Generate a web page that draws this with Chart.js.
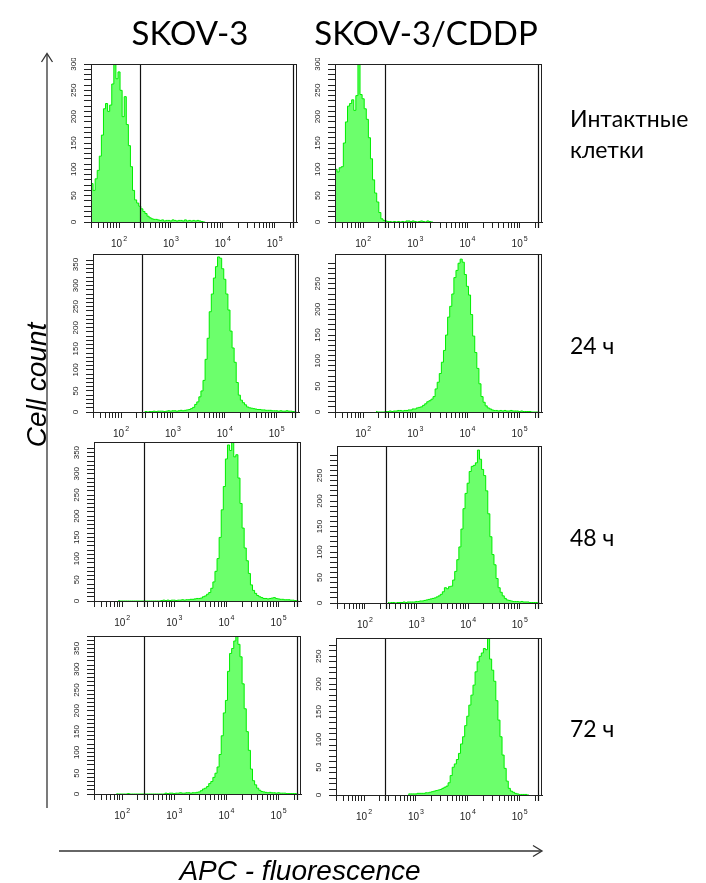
<!DOCTYPE html>
<html>
<head>
<meta charset="utf-8">
<script src="https://cdn.jsdelivr.net/npm/chart.js@4.4.1/dist/chart.umd.min.js"></script>
<style>
  body { margin: 0; background: #fff; }
  #page { position: relative; width: 706px; height: 883px; overflow: hidden; background: #fff; }
  #page canvas { position: absolute; }
  #overlay { position: absolute; left: 0; top: 0; }
</style>
</head>
<body>
<div id="page">
  <svg id="overlay" width="706" height="883" xmlns="http://www.w3.org/2000/svg"></svg>
</div>
<script>
// histogram bins are 0.04 decade wide; each panel lists counts from its first bin edge (log10)
const BIN = 0.04;
const X_MIN_LOG = 1.46, X_MAX_LOG = 5.43;

const columnNames = ['SKOV-3', 'SKOV-3/CDDP'];
const rowNames = [['Интактные', 'клетки'], ['24 ч'], ['48 ч'], ['72 ч']];
const xTickExp = [2, 3, 4, 5];
const gates = [257, 229000];
const yMax = [300, 300, 375, 308, 375, 308, 380, 283];
const firstEdge = [1.46, 1.46, 2.46, 2.26, 1.94, 2.46, 1.90, 2.86];

const skov3Intact = [400, 73, 60, 82, 98, 125, 165, 215, 225, 210, 222, 262, 300, 272, 285, 250, 200, 238, 185, 145,
  105, 60, 42, 36, 30, 25, 20, 16, 11, 8, 6, 5, 5, 4, 3, 4, 2, 3, 3, 2, 4, 3, 2, 3, 3, 2, 4, 2, 3, 2, 3, 2, 3, 2, 1];
const cddpIntact = [400, 100, 95, 103, 105, 150, 190, 220, 225, 232, 212, 240, 300, 242, 234, 215, 195, 160, 120, 80,
  55, 38, 18, 6, 3, 2, 1, 1, 0, 1, 0, 1, 0, 1, 0, 2, 2, 1, 2, 1, 0, 1, 2, 1, 0, 2, 1];
const skov3H24 = [1, 1, 0, 1, 1, 2, 1, 2, 2, 2, 1, 2, 3, 2, 3, 3, 2, 3, 4, 3, 4, 5, 6,
  8, 11, 18, 24, 36, 50, 75, 125, 175, 238, 280, 318, 345, 368, 365, 340, 315, 280, 242, 192, 152, 118, 70, 40, 28,
  22, 17, 12, 10, 9, 8, 7, 6, 6, 5, 5, 4, 4, 4, 3, 3, 3, 2, 3, 2, 2, 3, 2, 2, 1];
const cddpH24 = [2, 0, 0, 0, 0, 1, 1, 2, 1, 2, 2, 3, 3, 2,
  3, 3, 4, 4, 6, 6, 8, 9, 10, 13, 16, 20, 22, 25, 30, 45, 58, 75, 97, 120, 150, 185, 206, 230, 262, 276, 290, 298,
  292, 268, 245, 228, 190, 148, 116, 85, 55, 30, 19, 12, 8, 6, 4,
  3, 3, 2, 3, 2, 3, 2, 2, 3, 2, 2, 2, 1, 2, 1, 1, 1, 1, 0, 0, 0];
const skov3H48 = [2, 0, 0, 0, 0, 0, 0, 0, 0, 0, 0, 0, 0, 0, 0, 0, 0, 0, 0, 0, 0,
  1, 2, 1, 2, 1, 2, 2, 1, 2, 2, 3, 2, 3, 3, 4, 4, 5, 6, 6, 7,
  10, 12, 16, 20, 30, 45, 70, 100, 150, 215, 270, 335, 368, 355, 380, 340, 345, 290, 230, 172, 125, 95, 65, 38, 25,
  18, 13, 10, 8, 6, 6, 5, 6, 7, 8, 6, 5, 4, 4, 3, 3, 3, 2, 2, 1];
const cddpH48 = [2, 0, 1, 1, 0, 1, 1, 1, 2, 1, 2, 2, 2, 2, 3, 3, 4, 4, 5, 6, 7, 8, 9, 10, 12, 14, 17, 22, 30, 28,
  32, 33, 45, 62, 85, 110, 145, 185, 215, 235, 258, 268, 270, 275, 300, 282, 262, 250, 220, 175, 130, 95, 75, 48,
  30, 21, 14, 9, 6, 5, 4, 3, 3, 3, 2, 3, 2, 2, 2, 1, 1, 1, 1];
const skov3H72 = [1, 0, 0, 0, 0, 0, 1, 0, 0, 0, 0, 0, 0, 0, 0, 0, 0, 0, 0, 0, 0, 0, 0, 0,
  2, 1, 2, 2, 1, 2, 2, 3, 2, 2, 3, 3, 2, 3, 3, 4, 5, 8,
  12, 14, 18, 25, 30, 40, 50, 65, 95, 140, 195, 225, 295, 338, 350, 368, 385, 360, 330, 265, 205, 150, 105, 60,
  32, 22, 14, 9, 6, 5, 4, 3, 4, 3, 3, 2, 3, 2, 2, 2, 1, 1, 1, 1, 1];
const cddpH72 = [1, 2, 2, 2, 2, 3, 3, 3, 3, 4, 4, 5, 6, 7, 8, 9, 10, 12, 14, 16, 22, 35, 50, 56, 64, 75, 92, 105,
  125, 142, 162, 180, 198, 222, 240, 250, 256, 264, 262, 283, 245, 225, 205, 170, 135, 105, 72, 48, 25, 12, 7,
  5, 3, 2, 1, 1, 1, 1];

const panelCounts = [skov3Intact, cddpIntact, skov3H24, cddpH24, skov3H48, cddpH48, skov3H72, cddpH72];

// plot-area placement on the page (left, top, right, bottom)
const areaLeft = [91, 335, 93, 335, 94, 337, 94, 336];
const areaTop = [64, 64, 254, 254, 442, 446, 636, 638];
const areaRight = [297, 542, 299, 542, 301, 542, 301, 542];
const areaBottom = [222, 222, 412, 412, 601, 603, 794, 795];

const FONT = '"Liberation Sans", Arial, sans-serif';
const page = document.getElementById('page');

function histPoints(edge, counts) {
  const pts = [{x: 10 ** edge, y: 0}];
  counts.forEach((c, i) => pts.push({x: 10 ** (edge + i * BIN), y: c}));
  pts.push({x: 10 ** (edge + counts.length * BIN), y: 0});
  return pts;
}

const panelDecor = {
  id: 'panelDecor',
  afterDraw(chart) {
    const {ctx, chartArea: a, scales: {x, y}} = chart;
    ctx.save();
    // gate markers
    ctx.strokeStyle = '#111';
    ctx.lineWidth = 1.2;
    gates.forEach(g => {
      const px = Math.round(x.getPixelForValue(g)) + 0.5;
      ctx.beginPath();
      ctx.moveTo(px, a.top);
      ctx.lineTo(px, a.bottom + 6);
      ctx.stroke();
    });
    // frame
    ctx.lineWidth = 1;
    ctx.strokeStyle = '#222';
    ctx.strokeRect(Math.round(a.left) + 0.5, Math.round(a.top) + 0.5,
      Math.round(a.right - a.left) - 1, Math.round(a.bottom - a.top));
    // y labels, rotated
    ctx.fillStyle = '#222';
    ctx.font = '8px ' + FONT;
    ctx.textAlign = 'center';
    ctx.textBaseline = 'middle';
    y.ticks.forEach(t => {
      if (t.value % 50) return;
      ctx.save();
      ctx.translate(a.left - 17, y.getPixelForValue(t.value));
      ctx.rotate(-Math.PI / 2);
      ctx.fillText(String(t.value), 0, 0);
      ctx.restore();
    });
    // x labels 10^n
    ctx.textAlign = 'left';
    ctx.textBaseline = 'alphabetic';
    xTickExp.forEach(e => {
      const px = x.getPixelForValue(10 ** e);
      ctx.font = '10px ' + FONT;
      const w1 = ctx.measureText('10').width;
      ctx.font = '7px ' + FONT;
      const w2 = ctx.measureText(String(e)).width;
      const x0 = px - (w1 + w2 + 1) / 2;
      ctx.font = '10px ' + FONT;
      ctx.fillText('10', x0, a.bottom + 25);
      ctx.font = '7px ' + FONT;
      ctx.fillText(String(e), x0 + w1 + 1, a.bottom + 19);
    });
    ctx.restore();
  }
};

panelCounts.forEach((counts, p) => {
  const w = areaRight[p] - areaLeft[p] + 36;
  const h = areaBottom[p] - areaTop[p] + 36;
  const canvas = document.createElement('canvas');
  canvas.width = w;
  canvas.height = h;
  canvas.style.left = (areaLeft[p] - 32) + 'px';
  canvas.style.top = (areaTop[p] - 6) + 'px';
  page.insertBefore(canvas, document.getElementById('overlay'));

  new Chart(canvas.getContext('2d'), {
    type: 'line',
    data: {
      datasets: [{
        data: histPoints(firstEdge[p], counts),
        stepped: 'after',
        fill: 'origin',
        backgroundColor: 'rgb(108,255,108)',
        borderColor: 'rgb(0,238,0)',
        borderWidth: 1,
        pointRadius: 0
      }]
    },
    options: {
      responsive: false,
      animation: false,
      devicePixelRatio: 1,
      layout: {padding: {left: 0, right: 4, top: 6, bottom: 0}},
      plugins: {legend: {display: false}, tooltip: {enabled: false}},
      scales: {
        x: {
          type: 'logarithmic',
          min: 10 ** X_MIN_LOG,
          max: 10 ** X_MAX_LOG,
          afterBuildTicks: s => {
            const t = [];
            for (let e = 1; e <= 5; e++) {
              for (let k = 1; k <= 9; k++) {
                const v = k * 10 ** e;
                if (v >= s.min && v <= s.max) t.push({value: v});
              }
            }
            s.ticks = t;
          },
          afterFit: s => { s.height = 30; },
          ticks: {display: false},
          grid: {display: true, drawOnChartArea: false, drawTicks: true, tickLength: 6, color: '#222'},
          border: {display: true, color: '#222'}
        },
        y: {
          min: 0,
          max: yMax[p],
          ticks: {display: false, stepSize: 10},
          afterBuildTicks: s => { s.ticks = s.ticks.filter(t => t.value % 10 === 0); },
          afterFit: s => { s.width = 32; },
          grid: {display: true, drawOnChartArea: false, drawTicks: true, tickLength: 7, color: '#222'},
          border: {display: true, color: '#222'}
        }
      }
    },
    plugins: [panelDecor]
  });
});

// titles, row labels, axis arrows
const svg = document.getElementById('overlay');
const NS = 'http://www.w3.org/2000/svg';
function svgEl(tag, attrs, text) {
  const el = document.createElementNS(NS, tag);
  Object.keys(attrs).forEach(k => el.setAttribute(k, attrs[k]));
  if (text) el.textContent = text;
  svg.appendChild(el);
  return el;
}

columnNames.forEach((name, c) => {
  const cx = (areaLeft[c] + areaRight[c]) / 2;
  svgEl('text', {x: c === 0 ? 190 : 426, y: 45, 'font-family': 'Lato, sans-serif', 'font-size': 33,
    'text-anchor': 'middle', fill: '#000'}, name);
});

const rowBaselines = [[127, 158], [354], [546], [737]];
rowNames.forEach((lines, r) => {
  lines.forEach((ln, i) => {
    svgEl('text', {x: 570, y: rowBaselines[r][i], 'font-family': 'Lato, sans-serif', 'font-size': 23,
      fill: '#000'}, ln);
  });
});

svgEl('text', {x: 0, y: 0, transform: 'translate(46,385) rotate(-90)', 'font-family': FONT, 'font-size': 28,
  'font-style': 'italic', 'text-anchor': 'middle', fill: '#000'}, 'Cell count');
svgEl('text', {x: 300, y: 880, 'font-family': FONT, 'font-size': 28, 'font-style': 'italic',
  'text-anchor': 'middle', fill: '#000'}, 'APC - fluorescence');

const arrowStyle = {stroke: '#333', 'stroke-width': 1.3, fill: 'none'};
svgEl('line', Object.assign({x1: 47, y1: 808, x2: 47, y2: 54}, arrowStyle));
svgEl('polyline', Object.assign({points: '41.5,62 47,53.5 52.5,62'}, arrowStyle));
svgEl('line', Object.assign({x1: 59, y1: 851, x2: 541, y2: 851}, arrowStyle));
svgEl('polyline', Object.assign({points: '533,845.5 542,851 533,856.5'}, arrowStyle));
</script>
</body>
</html>
